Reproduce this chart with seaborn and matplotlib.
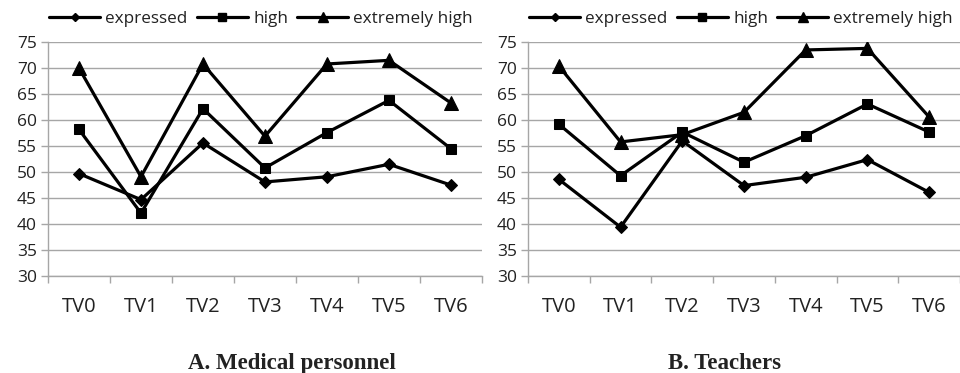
import matplotlib
matplotlib.use("Agg")
import matplotlib.pyplot as plt
import seaborn as sns
import pandas as pd
from matplotlib.lines import Line2D

categories = ["TV0", "TV1", "TV2", "TV3", "TV4", "TV5", "TV6"]
series_names = ["expressed", "high", "extremely high"]

med_expressed = [49.7, 44.7, 55.6, 48.1, 49.1, 51.5, 47.5]
med_high = [58.2, 42.1, 62.2, 50.8, 57.6, 63.8, 54.5]
med_extreme = [70.0, 49.1, 70.8, 56.9, 70.8, 71.5, 63.3]

tea_expressed = [48.6, 39.4, 56.0, 47.4, 49.0, 52.4, 46.1]
tea_high = [59.2, 49.3, 57.7, 51.9, 57.0, 63.1, 57.7]
tea_extreme = [70.4, 55.8, 57.2, 61.5, 73.5, 73.8, 60.6]

panel_titles = ["A. Medical personnel", "B. Teachers"]
yticks = [30, 35, 40, 45, 50, 55, 60, 65, 70, 75]


def long_df(vals):
    rows = []
    for name, v in zip(series_names, vals):
        for c, y in zip(categories, v):
            rows.append({"cat": c, "value": y, "series": name})
    return pd.DataFrame(rows)


sns.set_theme(style="white")
plt.rcParams["font.family"] = ["Open Sans", "DejaVu Sans"]

fig = plt.figure(figsize=(9.6, 3.73), dpi=100)
ax1 = fig.add_axes([0.05, 0.26, 0.452, 0.627])
ax2 = fig.add_axes([0.55, 0.26, 0.45, 0.627])

markers = {"expressed": "D", "high": "s", "extremely high": "^"}
msizes = {"expressed": 6.3, "high": 7.6, "extremely high": 9.5}
leg_msizes = {"expressed": 4.2, "high": 6.0, "extremely high": 7.0}

datasets = [
    [med_expressed, med_high, med_extreme],
    [tea_expressed, tea_high, tea_extreme],
]

grid_col = "#a6a6a6"
for ax, data, title, cx in zip([ax1, ax2], datasets, panel_titles, [0.304, 0.755]):
    df = long_df(data)
    for name in series_names:
        sub = df[df["series"] == name]
        sns.lineplot(data=sub, x="cat", y="value", ax=ax, color="black",
                     marker=markers[name], markersize=msizes[name],
                     markeredgecolor="black", linewidth=2.3, legend=False,
                     sort=False)
    ax.set_xlim(-0.5, 6.5)
    ax.set_ylim(30, 75)
    ax.set_yticks(yticks)
    ax.yaxis.grid(True, color=grid_col, linewidth=1.0)
    ax.xaxis.grid(False)
    ax.set_axisbelow(True)
    for s in ["top", "right"]:
        ax.spines[s].set_visible(False)
    for s in ["left", "bottom"]:
        ax.spines[s].set_color(grid_col)
        ax.spines[s].set_linewidth(1.0)
    ax.set_xlabel("")
    ax.set_ylabel("")
    ax.set_xticks(range(len(categories)))
    ax.set_xticklabels(categories)
    ax.set_xticks([i - 0.5 for i in range(len(categories) + 1)], minor=True)
    ax.tick_params(axis="x", which="major", length=0, pad=15, labelsize=14.5,
                   colors="#222222")
    ax.tick_params(axis="x", which="minor", length=5, width=1.0, color=grid_col,
                   direction="out", bottom=True)
    ax.tick_params(axis="y", which="major", length=5, width=1.0, color=grid_col,
                   direction="out", left=True, pad=3, labelsize=12.5,
                   labelcolor="#222222")
    handles = [Line2D([0], [0], color="black", lw=2.3, marker=markers[n],
                      markersize=leg_msizes[n]) for n in series_names]
    bb = ax.get_position()
    fig.legend(handles, series_names, loc="center left",
               bbox_to_anchor=(bb.x0 + 0.001, 0.949), ncol=3,
               frameon=False, fontsize=12.3, handlelength=3.0, handletextpad=0.3,
               columnspacing=0.53, borderaxespad=0, borderpad=0,
               labelcolor="#222222")
    fig.text(cx, 0.026, title, ha="center", va="center",
             fontfamily="Liberation Serif", fontweight="bold", fontsize=16.5,
             color="#222222")

fig.savefig("out.png", dpi=100)
